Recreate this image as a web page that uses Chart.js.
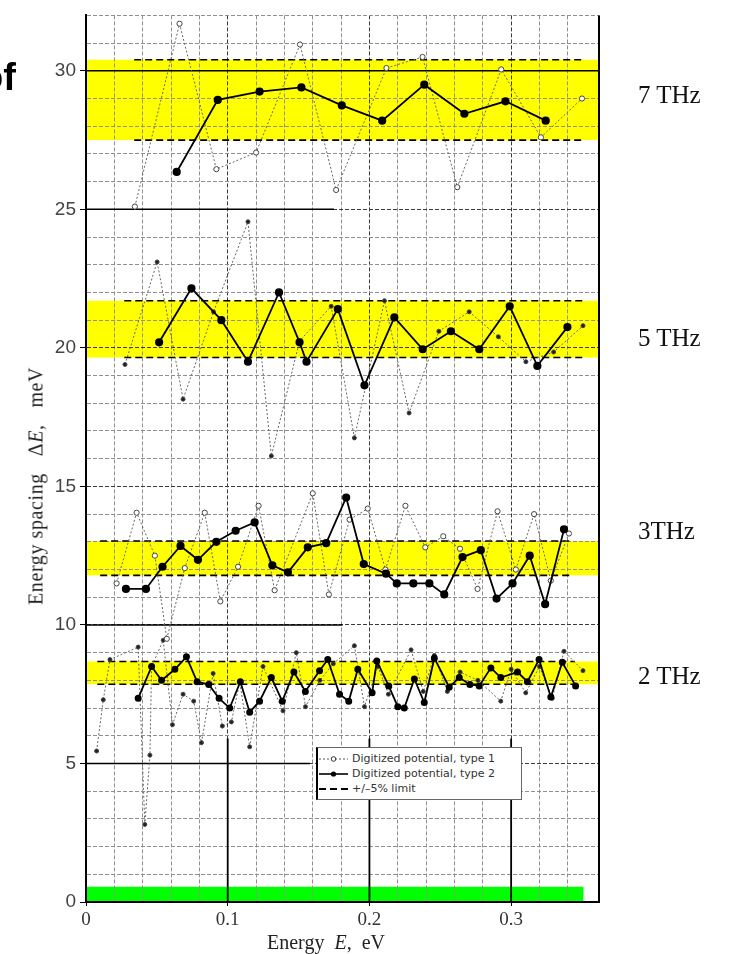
<!DOCTYPE html>
<html>
<head>
<meta charset="utf-8">
<script src="https://cdn.jsdelivr.net/npm/chart.js@4.4.1/dist/chart.umd.min.js"></script>
<style>
  html, body { margin: 0; padding: 0; background: #fff; }
  #wrap { position: relative; width: 729px; height: 954px; overflow: hidden; }
  #chart { position: absolute; left: 0; top: 0; }
  .freq { position: absolute; font-family: "Liberation Serif", serif; font-size: 25px; line-height: 25px; color: #111; white-space: nowrap; }
  #ytitle { position: absolute; left: 36px; top: 486px; transform: translate(-50%, -50%) rotate(-90deg);
            font-family: "Liberation Serif", serif; font-size: 20px; letter-spacing: 0.6px; color: #222; white-space: nowrap; }
  #xtitle { position: absolute; left: 326px; top: 942px; transform: translate(-50%, -50%);
            font-family: "Liberation Serif", serif; font-size: 20px; color: #222; white-space: nowrap; }
  #of { position: absolute; left: -20px; top: 58px; font-family: "Liberation Sans", sans-serif; font-weight: bold;
        font-size: 38px; line-height: 38px; color: #000; }
  #legend { position: absolute; left: 316px; top: 747px; width: 206px; height: 53px; background: #fff;
            border: 1px solid #666; border-left: 2px solid #000; padding-top: 3px; box-sizing: border-box; }
  #legend div { height: 15px; line-height: 15px; font-family: "DejaVu Sans", sans-serif; font-size: 11px; color: #333; white-space: nowrap; }
  #legend svg { vertical-align: middle; margin: 0 4px 0 1px; }
</style>
</head>
<body>
<div id="wrap">
  <canvas id="chart" width="729" height="954"></canvas>
  <div id="of">of</div>
  <div class="freq" style="left:638px;top:82px;">7 THz</div>
  <div class="freq" style="left:638px;top:325px;">5 THz</div>
  <div class="freq" style="left:638px;top:518px;">3THz</div>
  <div class="freq" style="left:638px;top:663px;">2 THz</div>
  <div id="ytitle">Energy spacing&nbsp;&nbsp;&nbsp;Δ<i>E</i>,&nbsp;&nbsp;&nbsp;meV</div>
  <div id="xtitle">Energy&nbsp;&nbsp;<i>E</i>,&nbsp;&nbsp;eV</div>
  <div id="legend">
    <div><svg width="29" height="10"><line x1="0" y1="5" x2="29" y2="5" stroke="#555" stroke-width="1" stroke-dasharray="2,2"/><circle cx="14.5" cy="5" r="2.3" fill="#fff" stroke="#333"/></svg>Digitized potential, type 1</div>
    <div><svg width="29" height="10"><line x1="0" y1="5" x2="29" y2="5" stroke="#000" stroke-width="1.6"/><circle cx="14.5" cy="5" r="2.6" fill="#000"/></svg>Digitized potential, type 2</div>
    <div><svg width="29" height="10"><line x1="0" y1="5" x2="29" y2="5" stroke="#000" stroke-width="1.8" stroke-dasharray="7,4"/></svg>+/–5% limit</div>
  </div>
</div>
<script>
// axis limits
const xMax = 0.362;
const yMax = 32;

// 7 THz
const t7Type1X = [0.0345, 0.066, 0.092, 0.120, 0.151, 0.1765, 0.212, 0.2375, 0.262, 0.293, 0.321, 0.350];
const t7Type1Y = [25.1, 31.7, 26.45, 27.05, 30.95, 25.7, 30.1, 30.5, 25.8, 30.05, 27.6, 29.0];
const t7Type2X = [0.064, 0.093, 0.1225, 0.152, 0.1805, 0.209, 0.2387, 0.267, 0.296, 0.3244];
const t7Type2Y = [26.35, 28.95, 29.25, 29.4, 28.75, 28.2, 29.5, 28.45, 28.9, 28.2];

// 5 THz
const t5Type1X = [0.0275, 0.0502, 0.0685, 0.090, 0.1143, 0.1308, 0.1507, 0.173, 0.1894, 0.2106, 0.228, 0.249, 0.2704, 0.291, 0.3104, 0.330, 0.3507];
const t5Type1Y = [19.4, 23.1, 18.15, 21.3, 24.55, 16.1, 20.25, 21.5, 16.75, 21.7, 17.65, 20.6, 21.3, 20.4, 19.5, 19.85, 20.8];
const t5Type2X = [0.0516, 0.0744, 0.0955, 0.1143, 0.1362, 0.1507, 0.1556, 0.1777, 0.1965, 0.2176, 0.2376, 0.2575, 0.2775, 0.299, 0.3185, 0.3397];
const t5Type2Y = [20.2, 22.15, 21.0, 19.5, 22.0, 20.2, 19.5, 21.4, 18.65, 21.1, 19.95, 20.6, 19.95, 21.5, 19.35, 20.75];

// 3 THz
const t3Type1X = [0.0216, 0.0357, 0.0486, 0.057, 0.0697, 0.0838, 0.0948, 0.1073, 0.1218, 0.1331, 0.160, 0.1714, 0.186, 0.1988, 0.2113, 0.2254, 0.2394, 0.2521, 0.2639, 0.2763, 0.2904, 0.3033, 0.3162, 0.328, 0.3408];
const t3Type1Y = [11.5, 14.05, 12.5, 9.5, 12.05, 14.05, 10.85, 12.1, 14.3, 11.25, 14.75, 11.1, 13.8, 14.2, 12.0, 14.3, 12.8, 13.2, 12.75, 11.3, 14.1, 12.0, 14.0, 11.6, 13.3];
const t3Type2X = [0.0282, 0.0423, 0.054, 0.0667, 0.079, 0.092, 0.1056, 0.119, 0.1315, 0.1425, 0.1565, 0.1695, 0.1836, 0.196, 0.2117, 0.2193, 0.231, 0.2423, 0.2528, 0.2657, 0.2786, 0.2897, 0.301, 0.3131, 0.324, 0.3373];
const t3Type2Y = [11.3, 11.3, 12.1, 12.85, 12.35, 13.0, 13.4, 13.7, 12.15, 11.9, 12.8, 12.95, 14.6, 12.2, 11.85, 11.5, 11.5, 11.5, 11.1, 12.45, 12.7, 10.95, 11.5, 12.5, 10.75, 13.45];

// 2 THz
const t2Type1X = [0.0075, 0.0122, 0.0169, 0.0368, 0.0415, 0.0451, 0.0463, 0.0545, 0.061, 0.0685, 0.076, 0.0815, 0.0897, 0.0962, 0.1026, 0.1085, 0.1155, 0.1249, 0.139, 0.1484, 0.1549, 0.165, 0.1745, 0.1894, 0.1965, 0.206, 0.2134, 0.2294, 0.238, 0.2458, 0.255, 0.264, 0.2765, 0.2927, 0.300, 0.3103, 0.320, 0.329, 0.3373, 0.3507];
const t2Type1Y = [5.45, 7.3, 8.75, 9.2, 2.8, 5.3, 8.5, 9.45, 6.4, 7.5, 7.25, 5.75, 8.25, 6.35, 6.5, 7.95, 5.6, 8.5, 6.9, 9.0, 7.05, 8.0, 8.6, 9.25, 7.05, 8.5, 7.5, 9.1, 7.6, 8.9, 7.6, 8.3, 8.0, 7.25, 8.4, 7.55, 8.5, 7.35, 9.05, 8.35];
const t2Type2X = [0.0368, 0.0463, 0.0533, 0.0627, 0.0709, 0.0784, 0.0866, 0.0939, 0.1014, 0.1089, 0.1155, 0.1225, 0.1308, 0.1385, 0.1467, 0.1548, 0.1648, 0.1706, 0.1789, 0.1854, 0.1918, 0.2019, 0.2052, 0.2136, 0.22, 0.2246, 0.2317, 0.2387, 0.2458, 0.2563, 0.2634, 0.2709, 0.2775, 0.2857, 0.2927, 0.3045, 0.3115, 0.3197, 0.328, 0.3361, 0.3455];
const t2Type2Y = [7.35, 8.5, 8.0, 8.4, 8.85, 7.95, 7.85, 7.35, 7.0, 7.95, 6.85, 7.25, 8.1, 7.25, 8.3, 7.6, 8.35, 8.75, 7.5, 7.25, 8.4, 7.55, 8.7, 7.8, 7.05, 7.0, 8.05, 7.2, 8.8, 7.75, 8.1, 7.85, 7.8, 8.45, 8.1, 8.3, 7.95, 8.75, 7.4, 8.65, 7.8];

// +/-5% bands (7, 5, 3, 2 THz)
const bandLow = [27.5, 19.65, 11.79, 7.86];
const bandHigh = [30.4, 21.7, 13.03, 8.68];
const limitStart = [0.034, 0.027, 0.01, 0.008];
const limitEnd = [0.35, 0.352, 0.343, 0.345];

// green strip at the bottom
const greenY = [0, 0.55];
const greenX = [0, 0.351];

// heavy black guide lines of the original plot
const solidLineY = 30;
const heavyHY = [25, 10, 5];
const heavyHEnd = [0.175, 0.181, 0.158];
const heavyVX = [0.1, 0.2, 0.3];
const heavyVTop = 5.9;

function pts(xs, ys) {
  return xs.map((x, i) => ({ x: x, y: ys[i] }));
}

function type1(xs, ys, filled) {
  return {
    data: pts(xs, ys),
    showLine: true,
    borderColor: '#666',
    borderWidth: 1,
    borderDash: [2, 2],
    pointRadius: filled ? 2 : 2.6,
    pointBackgroundColor: filled ? '#222' : '#fff',
    pointBorderColor: '#444',
    pointBorderWidth: 1,
    order: 2
  };
}

function type2(xs, ys, r) {
  return {
    data: pts(xs, ys),
    showLine: true,
    borderColor: '#000',
    borderWidth: 1.8,
    pointRadius: r,
    pointBackgroundColor: '#000',
    pointBorderColor: '#000',
    order: 1
  };
}

function segment(x1, y1, x2, y2, dash, width) {
  return {
    data: [{ x: x1, y: y1 }, { x: x2, y: y2 }],
    showLine: true,
    borderColor: '#000',
    borderWidth: width,
    borderDash: dash,
    pointRadius: 0,
    order: 3
  };
}

const datasets = [];
for (let i = 0; i < bandLow.length; i++) {
  datasets.push(segment(limitStart[i], bandHigh[i], limitEnd[i], bandHigh[i], [7, 4], 1.6));
  datasets.push(segment(limitStart[i], bandLow[i], limitEnd[i], bandLow[i], [7, 4], 1.6));
}
datasets.push(segment(0, solidLineY, xMax, solidLineY, [], 1.6));
heavyHY.forEach((y, i) => datasets.push(segment(0, y, heavyHEnd[i], y, [], 1.5)));
heavyVX.forEach(x => datasets.push(segment(x, 0, x, heavyVTop, [], 1.8)));

datasets.push(type1(t7Type1X, t7Type1Y, false));
datasets.push(type2(t7Type2X, t7Type2Y, 3.2));
datasets.push(type1(t5Type1X, t5Type1Y, true));
datasets.push(type2(t5Type2X, t5Type2Y, 3.2));
datasets.push(type1(t3Type1X, t3Type1Y, false));
datasets.push(type2(t3Type2X, t3Type2Y, 3.2));
datasets.push(type1(t2Type1X, t2Type1Y, true));
datasets.push(type2(t2Type2X, t2Type2Y, 2.6));

// bands under the grid
const bandPlugin = {
  id: 'bands',
  beforeDraw(chart) {
    const ctx = chart.ctx;
    const xs = chart.scales.x, ys = chart.scales.y;
    ctx.save();
    ctx.fillStyle = '#ffff00';
    for (let i = 0; i < bandLow.length; i++) {
      const x1 = xs.getPixelForValue(0), x2 = xs.getPixelForValue(xMax);
      const y1 = ys.getPixelForValue(bandHigh[i]), y2 = ys.getPixelForValue(bandLow[i]);
      ctx.fillRect(x1, y1, x2 - x1, y2 - y1);
    }
    ctx.fillStyle = '#00ff00';
    const gx1 = xs.getPixelForValue(greenX[0]), gx2 = xs.getPixelForValue(greenX[1]);
    const gy1 = ys.getPixelForValue(greenY[1]), gy2 = ys.getPixelForValue(greenY[0]);
    ctx.fillRect(gx1, gy1, gx2 - gx1, gy2 - gy1);
    ctx.restore();
  },
  beforeDatasetsDraw(chart) {
    const ctx = chart.ctx;
    const a = chart.chartArea;
    ctx.save();
    ctx.strokeStyle = '#000';
    ctx.lineWidth = 2;
    ctx.beginPath();
    ctx.moveTo(a.right, a.top);
    ctx.lineTo(a.right, a.bottom);
    ctx.stroke();
    ctx.restore();
  }
};

const isMajorX = v => Math.abs(v * 10 - Math.round(v * 10)) < 1e-6;

new Chart(document.getElementById('chart'), {
  type: 'scatter',
  data: { datasets: datasets },
  options: {
    responsive: false,
    animation: false,
    layout: { padding: { left: 0, right: 130, top: 6, bottom: 0 } },
    plugins: { legend: { display: false }, tooltip: { enabled: false } },
    scales: {
      x: {
        type: 'linear',
        min: 0,
        max: xMax,
        afterFit(scale) { scale.height = 52; },
        ticks: {
          stepSize: 0.02,
          autoSkip: false,
          maxRotation: 0,
          padding: 3,
          color: '#333',
          font: { family: 'Liberation Serif', size: 19 },
          callback(v) {
            if (!isMajorX(v) || v > 0.35) return '';
            return v === 0 ? '0' : v.toFixed(1);
          }
        },
        grid: {
          color: c => (c.tick && isMajorX(c.tick.value)) ? '#3a3a3a' : '#909090',
          lineWidth: 1,
          tickLength: 4,
          tickColor: c => (c.tick && isMajorX(c.tick.value) && c.tick.value < 0.35) ? '#000' : 'rgba(0,0,0,0)'
        },
        border: { display: true, color: '#000', width: 2, dash: [4, 2] }
      },
      y: {
        type: 'linear',
        min: 0,
        max: yMax,
        afterFit(scale) { scale.width = 86; },
        ticks: {
          stepSize: 1,
          autoSkip: false,
          padding: 4,
          color: '#444',
          font: { family: 'Liberation Sans', size: 19 },
          callback(v) { return v % 5 === 0 ? String(v) : ''; }
        },
        grid: {
          color: c => (c.tick && c.tick.value % 5 === 0) ? '#3a3a3a' : '#909090',
          lineWidth: 1,
          tickLength: 6,
          tickColor: c => (c.tick && c.tick.value % 5 === 0) ? '#000' : 'rgba(0,0,0,0)'
        },
        border: { display: true, color: '#000', width: 2, dash: [4, 2] }
      }
    }
  },
  plugins: [bandPlugin]
});
</script>
</body>
</html>
